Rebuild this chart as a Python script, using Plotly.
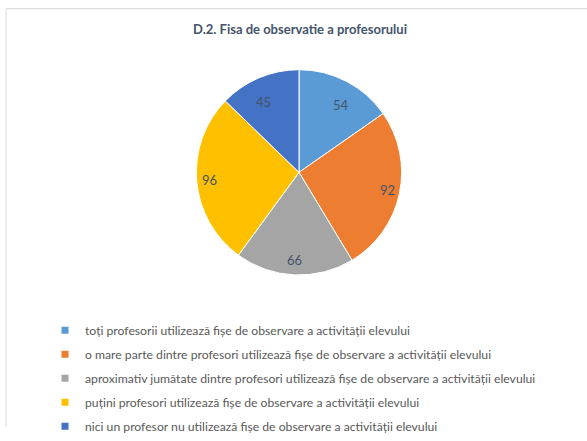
import math
import plotly.graph_objects as go

categories = [
    "toți profesorii utilizează fișe de observare a activității elevului",
    "o mare parte dintre profesori utilizează fișe de observare a activității elevului",
    "aproximativ jumătate dintre profesori utilizează fișe de observare a activității elevului",
    "puțini profesori utilizează fișe de observare a activității elevului",
    "nici un profesor nu utilizează fișe de observare a activității elevului",
]
values = [54, 92, 66, 96, 45]
colors = ["#5B9BD5", "#ED7D31", "#A5A5A5", "#FFC000", "#4472C4"]
title_text = "D.2. Fisa de observatie a profesorului"

W, H = 587, 441
CX, CY, R = 299, 178, 106

fig = go.Figure()
fig.add_trace(go.Pie(
    labels=categories, values=values, sort=False, direction="clockwise",
    rotation=0, marker=dict(colors=colors, line=dict(color="white", width=1)),
    textinfo="none", hoverinfo="label+value", showlegend=False,
    domain=dict(x=[(CX - R) / W, (CX + R) / W], y=[1 - (CY + R) / H, 1 - (CY - R) / H]),
))

# legend entries (one group each so the vertical spacing can be controlled)
for i, (c, col) in enumerate(zip(categories, colors)):
    fig.add_trace(go.Scatter(
        x=[None], y=[None], mode="markers", name=c, legendgroup=f"g{i}",
        marker=dict(symbol="square", size=7, color=col),
    ))

# data labels placed at slice mid-angles
total = sum(values)
annotations = []
cum = 0
for v in values:
    mid = (cum + v / 2) / total * 2 * math.pi
    cum += v
    px = CX + 0.85 * R * math.sin(mid)
    py = CY - 0.85 * R * math.cos(mid)
    annotations.append(dict(
        x=px / W, y=1 - py / H, xref="paper", yref="paper", text=str(v),
        showarrow=False, font=dict(family="Lato", size=13, color="#44546A"),
    ))

fig.update_layout(
    width=W, height=H, margin=dict(l=0, r=0, t=0, b=0),
    paper_bgcolor="white", plot_bgcolor="white",
    xaxis=dict(visible=False), yaxis=dict(visible=False),
    title=dict(text="<b>" + title_text + "</b>", x=300 / W, xanchor="center",
               y=1 - 29 / H, yanchor="middle",
               font=dict(family="Lato", size=13, color="#44546A")),
    legend=dict(x=45 / W, xanchor="left", y=1 - 326 / H, yanchor="top",
                font=dict(family="Lato", size=12.2, color="#595959"),
                tracegroupgap=5, bgcolor="rgba(0,0,0,0)"),
    annotations=annotations,
    shapes=[
        dict(type="line", xref="paper", yref="paper", x0=6 / W, x1=6 / W,
             y0=0, y1=1 - 9 / H, line=dict(color="#D9D9D9", width=1)),
        dict(type="line", xref="paper", yref="paper", x0=6 / W, x1=1,
             y0=1 - 9 / H, y1=1 - 9 / H, line=dict(color="#D9D9D9", width=1)),
    ],
)

fig.write_html("out.html", config={"displayModeBar": False},
               post_script="document.body.style.margin='0';document.body.style.overflow='hidden';")
